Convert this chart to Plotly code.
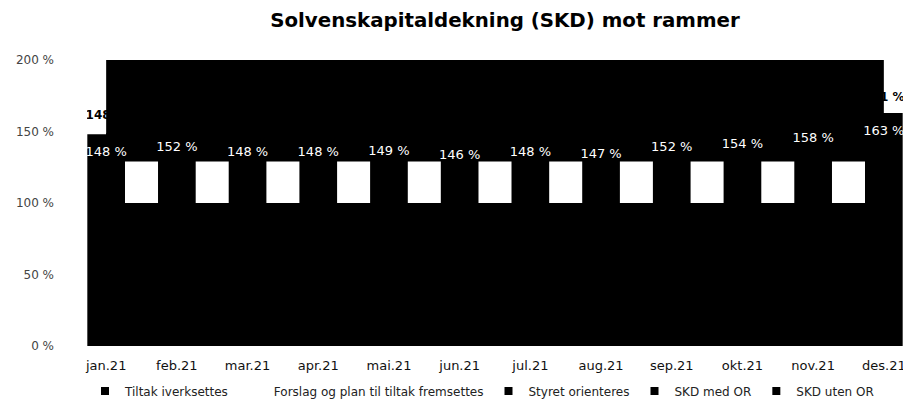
import plotly.graph_objects as go

# ---- data ----
months = ["jan.21", "feb.21", "mar.21", "apr.21", "mai.21", "jun.21",
          "jul.21", "aug.21", "sep.21", "okt.21", "nov.21", "des.21"]

# stacked limit bands (percent points per band)
tiltak_iverksettes = [100, 100, 100, 100, 100, 100, 100, 100, 100, 100, 100, 100]
forslag_plan = [29, 29, 29, 29, 29, 29, 29, 29, 29, 29, 29, 29]
styret_orienteres = [71, 71, 71, 71, 71, 71, 71, 71, 71, 71, 71, 71]

skd_med_or = [148, 152, 148, 148, 149, 146, 148, 147, 152, 154, 158, 163]
skd_uten_or = [148, 153, 149, 150, 151, 148, 150, 150, 155, 157, 159, 161]

y_tick_vals = [0, 50, 100, 150, 200]
y_tick_text = ["0 %", "50 %", "100 %", "150 %", "200 %"]

legend_names = ["Tiltak iverksettes", "Forslag og plan til tiltak fremsettes",
                "Styret orienteres", "SKD med OR", "SKD uten OR"]
legend_colors = ["black", "white", "black", "black", "black"]

x_range = [-0.271, 11.271]
y_range = [0, 200]

# the page body adds an 8 px margin, so the figure is 8 px smaller
W, H = 903, 399

fig = go.Figure()

# line with labels (drawn first so the bands cover most of it)
fig.add_trace(go.Scatter(
    x=months, y=skd_uten_or, name="SKD uten OR", mode="lines+markers+text",
    line=dict(color="black", width=2),
    marker=dict(size=18, color="rgba(0,0,0,0)"),
    texttemplate="%{y} %", textposition="top center",
    textfont=dict(family="DejaVu Sans", size=12, color="black", weight="bold"),
    showlegend=False, hoverinfo="skip",
))

# stacked bands
fig.add_trace(go.Scatter(
    x=months, y=tiltak_iverksettes, name="Tiltak iverksettes", mode="lines",
    stackgroup="rammer", line=dict(width=0, color="black"), fillcolor="black",
    showlegend=False,
))
fig.add_trace(go.Scatter(
    x=months, y=forslag_plan, name="Forslag og plan til tiltak fremsettes", mode="lines",
    stackgroup="rammer", line=dict(width=0, color="white"), fillcolor="white",
    showlegend=False,
))
fig.add_trace(go.Scatter(
    x=months, y=styret_orienteres, name="Styret orienteres", mode="lines",
    stackgroup="rammer", line=dict(width=0, color="black"), fillcolor="black",
    showlegend=False,
))

# legend entries (square swatches)
for nm, col in zip(legend_names, legend_colors):
    fig.add_trace(go.Scatter(
        x=[None], y=[None], name=nm, mode="markers",
        marker=dict(symbol="square", size=8, color=col, line=dict(width=0)),
        showlegend=True,
    ))

# bars on an overlaying axis pair so they sit above the bands
fig.add_trace(go.Bar(
    x=months, y=skd_med_or, name="SKD med OR", xaxis="x2", yaxis="y2",
    marker=dict(color="black", line=dict(width=0)), width=0.533,
    showlegend=False,
))
# bar value labels just under each bar top
fig.add_trace(go.Scatter(
    x=months, y=skd_med_or, name="SKD med OR", xaxis="x2", yaxis="y2",
    mode="markers+text", marker=dict(size=18, color="rgba(0,0,0,0)"),
    texttemplate="%{y} %", textposition="bottom center",
    textfont=dict(family="DejaVu Sans", size=13, color="white"),
    showlegend=False, hoverinfo="skip",
))

fig.update_layout(
    width=W, height=H,
    margin=dict(l=79, r=8, t=52, b=61, autoexpand=False),
    paper_bgcolor="white", plot_bgcolor="white",
    title=dict(text="<b>Solvenskapitaldekning (SKD) mot rammer</b>",
               font=dict(family="DejaVu Sans", size=19.8, color="black"),
               x=(505 - 8) / W, xanchor="center", xref="container",
               y=1 - 12 / H, yanchor="middle", yref="container"),
    xaxis=dict(range=x_range, showgrid=False, zeroline=False, showline=False,
               ticks="", ticklabelstandoff=10, automargin=False,
               tickfont=dict(family="DejaVu Sans", size=13, color="#111111")),
    yaxis=dict(range=y_range, tickvals=y_tick_vals, ticktext=y_tick_text,
               showgrid=False, zeroline=False, showline=False, ticks="",
               ticklabelstandoff=32, automargin=False,
               tickfont=dict(family="DejaVu Sans", size=12, color="#444444")),
    xaxis2=dict(range=x_range, overlaying="x", visible=False),
    yaxis2=dict(range=y_range, overlaying="y", visible=False),
    barmode="overlay",
    showlegend=True,
    legend=dict(orientation="h", x=(482 - 87) / 816, xanchor="center",
                y=-0.157, yanchor="middle", traceorder="normal",
                itemwidth=30,
                font=dict(family="DejaVu Sans", size=12, color="#222222"),
                bgcolor="rgba(0,0,0,0)"),
)

fig.write_html("out.html")
